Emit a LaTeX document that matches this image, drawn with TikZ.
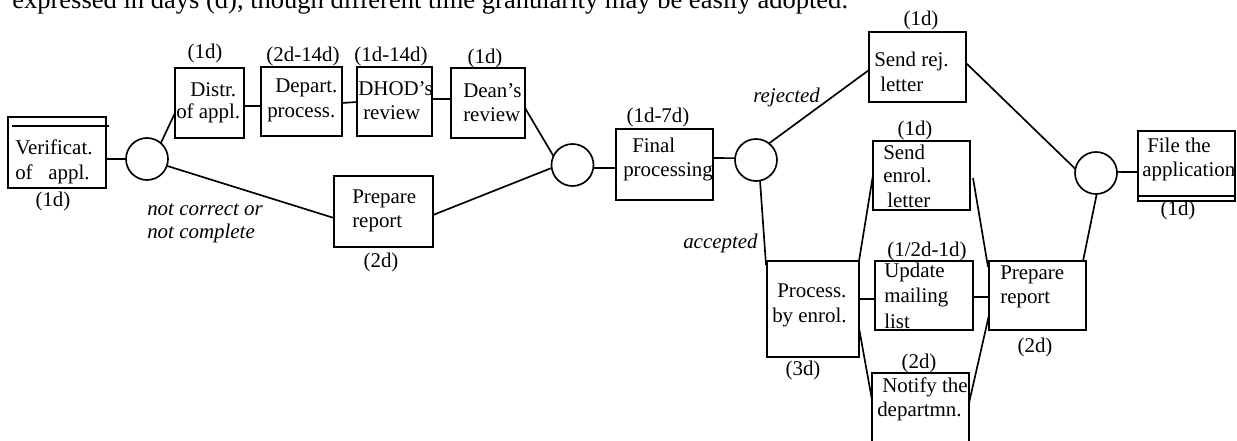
\documentclass[tikz,border=0pt]{standalone}
\usepackage{fontspec}
\setmainfont{Liberation Serif}
\newcommand{\diagfont}{\fontsize{15.7}{18}\selectfont}
\newcommand{\capfont}{\fontsize{19.9}{23}\selectfont}
\begin{document}
\begin{tikzpicture}[x=0.75pt,y=-0.75pt,
  box/.style={draw,line width=1.25pt,inner sep=0pt,outer sep=0pt,anchor=north west},
  endbox/.style={box,line width=1.5pt},
  circ/.style={draw,circle,line width=1.25pt,minimum size=31.5pt,inner sep=0pt,outer sep=0pt},
  con/.style={line width=1.25pt},
  txt/.style={anchor=base west,inner sep=0pt,font=\diagfont},
  dur/.style={anchor=base,inner sep=0pt,font=\diagfont},
  cond/.style={anchor=base west,inner sep=0pt,font=\diagfont\itshape}]
\useasboundingbox (0,0) rectangle (1237,441);
\clip (0,0) rectangle (1237,441);

% caption
\node[anchor=base west,inner sep=0pt,font=\capfont] (cap) at (12,9) {expressed in days (d), though different time granularity may be easily adopted.};

% boxes
\node[endbox,minimum width=73.5pt,minimum height=53.25pt] (ver) at (8,117) {};
\node[box,minimum width=51.75pt,minimum height=52.5pt] (distr) at (175,68) {};
\node[box,minimum width=60.75pt,minimum height=51.75pt] (depart) at (261,67) {};
\node[box,minimum width=56.25pt,minimum height=51.75pt] (dhod) at (357,67) {};
\node[box,minimum width=55.5pt,minimum height=52.5pt] (dean) at (451,68) {};
\node[box,minimum width=74.25pt,minimum height=53.25pt] (prepa) at (334,176) {};
\node[box,minimum width=72.75pt,minimum height=53.25pt] (final) at (616,129) {};
\node[box,minimum width=72.75pt,minimum height=52.5pt] (rej) at (869,32) {};
\node[endbox,minimum width=72.75pt,minimum height=52.5pt] (file) at (1138,131) {};
\node[box,minimum width=69pt,minimum height=72pt] (proc) at (767,261) {};
\node[box,minimum width=72.75pt,minimum height=51.75pt] (enrol) at (873,141) {};
\node[box,minimum width=73.5pt,minimum height=51.75pt] (upd) at (875,261) {};
\node[box,minimum width=72.75pt,minimum height=60pt] (notif) at (872,373) {};
\node[box,minimum width=72.75pt,minimum height=51.75pt] (prepb) at (989,261) {};

% double lines of start / end boxes
\draw[con] ([shift={(4,9)}]ver.north west) -- ([shift={(3,9)}]ver.north east);
\draw[con] ([shift={(0,-5)}]file.south west) -- ([shift={(0,-5)}]file.south east);

% circles
\node[circ] (c1) at (147,159) {};
\node[circ] (c2) at (572.5,165) {};
\node[circ] (c3) at (756,160) {};
\node[circ] (c4) at (1096,173) {};

% box texts
\node[txt] (tver1) at (15,155) {Verificat.};
\node[txt] (tver2) at (15,180) {of \ \ appl.};
\node[txt] (tdis1) at (190,97) {Distr.};
\node[txt] (tdis2) at (176,119) {of appl.};
\node[txt] (tdep1) at (275,93) {Depart.};
\node[txt] (tdep2) at (267,118) {process.};
\node[txt] (tdh1) at (358,96) {DHOD’s};
\node[txt] (tdh2) at (363,120) {review};
\node[txt] (tde1) at (463,98) {Dean’s};
\node[txt] (tde2) at (463,122) {review};
\node[txt] (tpa1) at (352,204) {Prepare};
\node[txt] (tpa2) at (352,228) {report};
\node[txt] (tfi1) at (632,153) {Final};
\node[txt] (tfi2) at (623,177) {processing};
\node[txt] (trj1) at (874,67) {Send rej.};
\node[txt] (trj2) at (880,92) {letter};
\node[txt] (tfl1) at (1147,153) {File the};
\node[txt] (tfl2) at (1142,177) {application};
\node[txt] (tpr1) at (777,297) {Process.};
\node[txt] (tpr2) at (772,322) {by enrol.};
\node[txt] (ten1) at (883,160) {Send};
\node[txt] (ten2) at (883,183) {enrol.};
\node[txt] (ten3) at (887,208) {letter};
\node[txt] (tup1) at (884,278) {Update};
\node[txt] (tup2) at (884,303) {mailing};
\node[txt] (tup3) at (884,328) {list};
\node[txt] (tno1) at (882,392) {Notify the};
\node[txt] (tno2) at (877,416) {departmn.};
\node[txt] (tpb1) at (1000,280) {Prepare};
\node[txt] (tpb2) at (1000,304) {report};

% durations
\node[dur] (dver) at (53,207) {(1d)};
\node[dur] (ddis) at (205,59) {(1d)};
\node[dur] (ddep) at (303,62) {(2d-14d)};
\node[dur] (ddh) at (391,62) {(1d-14d)};
\node[dur] (dde) at (485,64) {(1d)};
\node[dur] (dpa) at (381,268) {(2d)};
\node[dur] (dfi) at (658,123) {(1d-7d)};
\node[dur] (drj) at (921,26) {(1d)};
\node[dur] (den) at (915,136) {(1d)};
\node[dur] (dup) at (927,257) {(1/2d-1d)};
\node[dur] (dno) at (919,368) {(2d)};
\node[dur] (dpr) at (803,375) {(3d)};
\node[dur] (dpb) at (1035,352) {(2d)};
\node[dur] (dfl) at (1178,216) {(1d)};

% conditions
\node[cond] (nc1) at (147,216) {not correct or};
\node[cond] (nc2) at (147,239) {not complete};
\node[cond] (rj) at (753,103) {rejected};
\node[cond] (ac) at (683,249) {accepted};

% connectors
\draw[con] ([shift={(0,42)}]ver.north east) -- (c1.west);
\draw[con] (c1.49) -- ([shift={(0,45)}]distr.north west);
\draw[con] ([shift={(0,38)}]distr.north east) -- ([shift={(0,39)}]depart.north west);
\draw[con] ([shift={(0,36)}]depart.north east) -- ([shift={(0,35)}]dhod.north west);
\draw[con] ([shift={(0,32)}]dhod.north east) -- ([shift={(0,31)}]dean.north west);
\draw[con] ([shift={(0,40)}]dean.north east) -- (c2.155);
\draw[con] (c1.-19) -- ([shift={(0,42)}]prepa.north west);
\draw[con] ([shift={(0,39)}]prepa.north east) -- (c2.-172);
\draw[con] (c2.-8) -- ([shift={(0,39)}]final.north west);
\draw[con] ([shift={(0,29)}]final.north east) -- (c3.175);
\draw[con] (c3.52) -- ([shift={(0,38)}]rej.north west);
\draw[con] ([shift={(0,31)}]rej.north east) -- (c4.169);
\draw[con] (c4.3) -- ([shift={(0,41)}]file.north west);
\draw[con] (c3.-79) -- ([shift={(-1,4)}]proc.north west);
\draw[con] (proc.north east) -- ([shift={(0,34)}]enrol.north west);
\draw[con] ([shift={(0,38)}]proc.north east) -- ([shift={(0,38)}]upd.north west);
\draw[con] ([shift={(0,67)}]proc.north east) -- ([shift={(0,27)}]notif.north west);
\draw[con] ([shift={(3,37)}]enrol.north east) -- ([shift={(-1,6)}]prepb.north west);
\draw[con] ([shift={(0,36)}]upd.north east) -- ([shift={(0,36)}]prepb.north west);
\draw[con] ([shift={(0,30)}]notif.north east) -- ([shift={(0,54)}]prepb.north west);
\draw[con] ([shift={(94,0)}]prepb.north west) -- (c4.-88);
\end{tikzpicture}
\end{document}
